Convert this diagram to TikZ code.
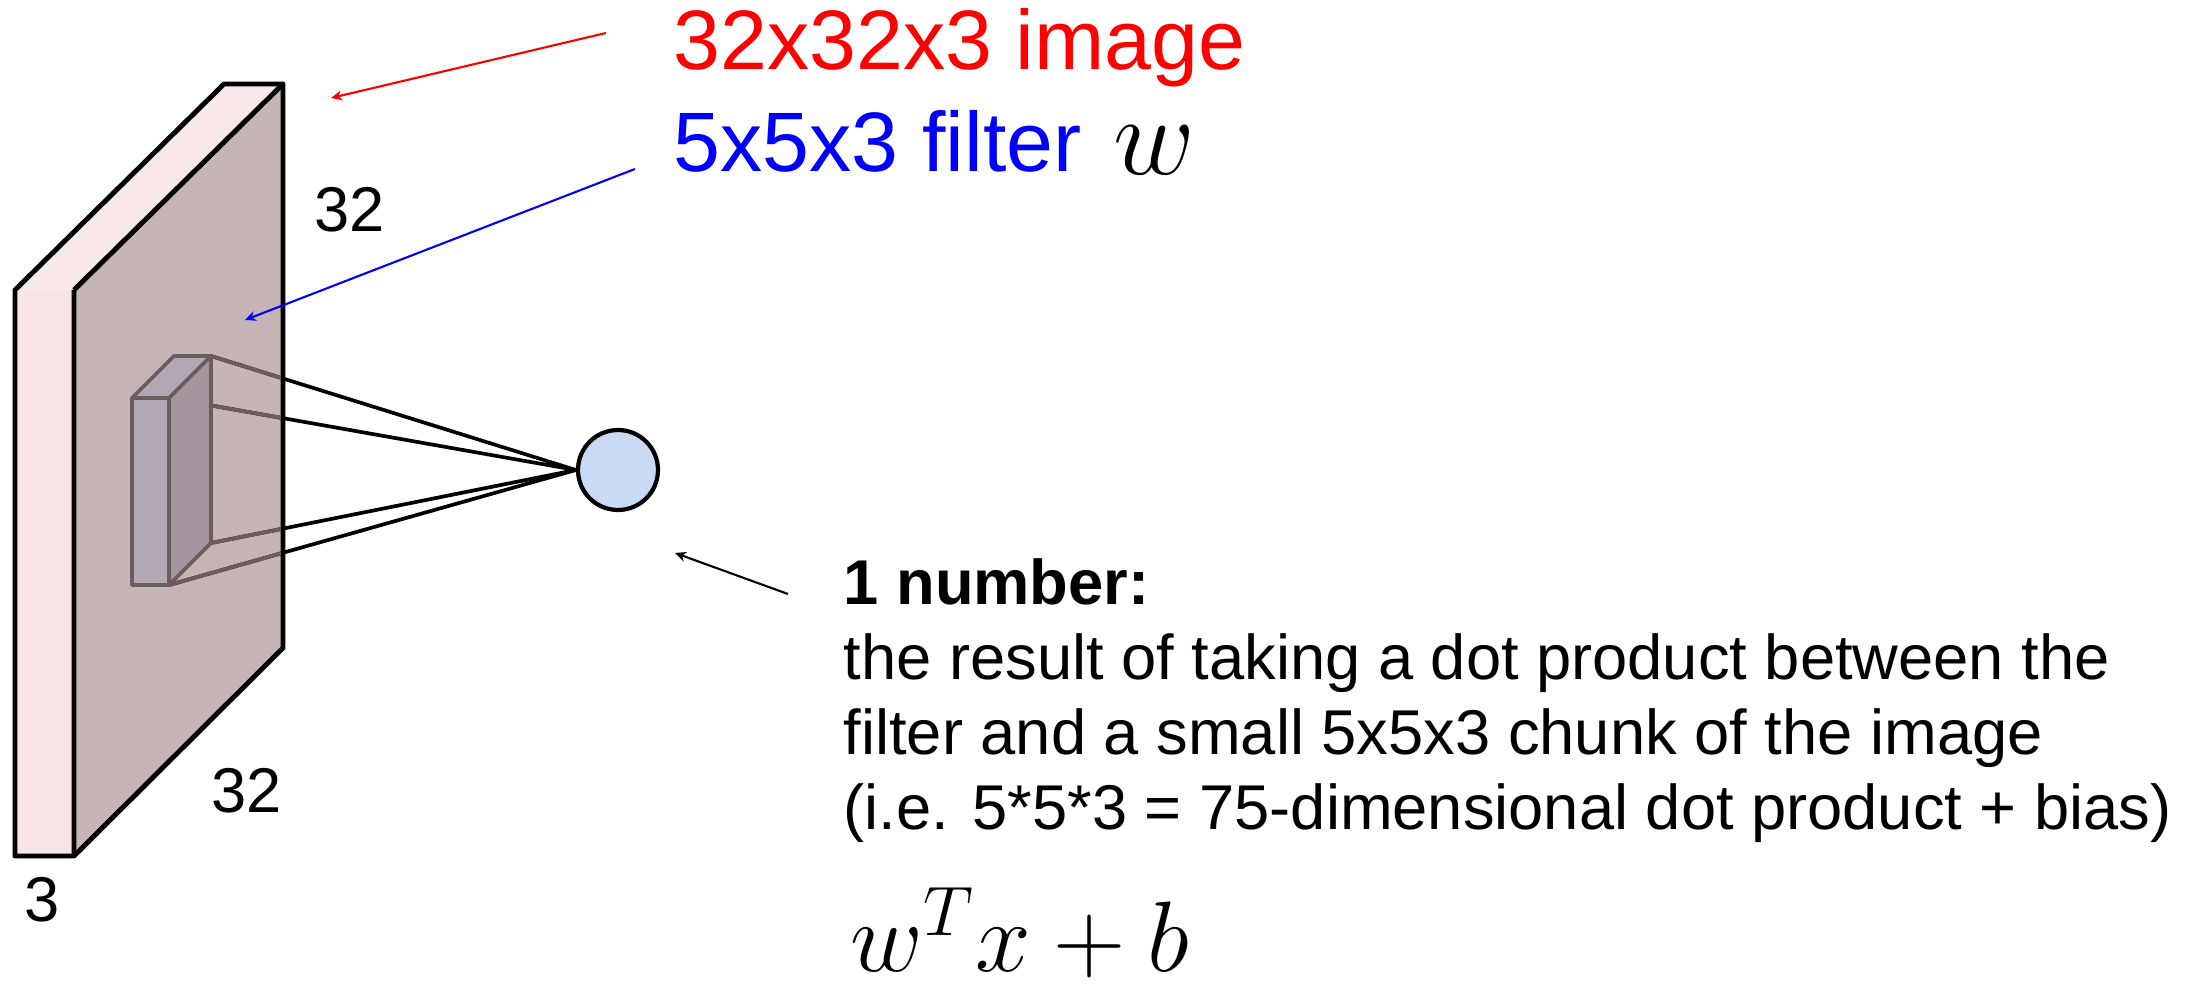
\RequirePackage{fix-cm}
\documentclass[tikz,border=0pt]{standalone}
\usepackage{fontspec}
\usepackage{tikz}
\usetikzlibrary{arrows.meta,positioning,calc}
\newfontfamily\arial{Liberation Sans}
\definecolor{slabpink}{HTML}{F8E4E4}
\definecolor{slabtop}{HTML}{F8E8E8}
\definecolor{slabside}{HTML}{C6B5B5}
\definecolor{filtfront}{HTML}{B3A9B5}
\definecolor{filtside}{HTML}{A3959E}
\definecolor{filtedge}{HTML}{6B5D5D}
\definecolor{dotfill}{HTML}{C9DAF5}
\definecolor{redx}{HTML}{FF0000}
\definecolor{bluex}{HTML}{0000FF}
\tikzset{
  slab/.style={draw=black,line width=1.4pt,line join=round},
  chunk/.style={draw=filtedge,line width=1.05pt,line join=round},
  wire/.style={line width=1.05pt},
  ptr/.style={-{Stealth[length=1.1mm,width=1mm]},line width=0.6pt},
  dim/.style={font=\arial\fontsize{18}{22}\selectfont,inner sep=0pt},
  big/.style={font=\arial\fontsize{24}{29}\selectfont,inner sep=0pt,anchor=base west}
}

\begin{document}
\begin{tikzpicture}[x=1cm,y=1cm]
\useasboundingbox (0,0) rectangle (21.99,9.87);
% input volume 32x32x3
\coordinate (FTL) at (0.15,6.97);
\coordinate (FTR) at (0.74,6.97);
\coordinate (FBR) at (0.74,1.31);
\coordinate (FBL) at (0.15,1.31);
\coordinate (BTL) at (2.24,9.03);
\coordinate (BTR) at (2.83,9.03);
\coordinate (BBR) at (2.83,3.39);
\fill[slabpink] (FTL) rectangle (FBR);
\fill[slabtop] (FTL) -- (BTL) -- (BTR) -- (FTR) -- cycle;
\fill[slabside] (FTR) -- (BTR) -- (BBR) -- (FBR) -- cycle;
\draw[slab] (FBL) -- (FTL) -- (BTL) -- (BTR) -- (BBR) -- (FBR) -- cycle;
\draw[slab] (FTR) -- (BTR) (FTR) -- (FBR);
% filter 5x5x3
\coordinate (f1) at (1.32,5.89);
\coordinate (f2) at (1.69,5.89);
\coordinate (f3) at (1.69,4.02);
\coordinate (f4) at (1.32,4.02);
\coordinate (f5) at (1.74,6.31);
\coordinate (f6) at (2.11,6.31);
\coordinate (f7) at (2.11,4.44);
% output neuron
\node[circle,draw,line width=1.2pt,fill=dotfill,minimum size=0.8cm,inner sep=0pt] (dot) at (6.18,5.17) {};
\foreach \c in {f6,f2,f7,f3}
  \draw[wire] (\c) -- (dot.west);
\begin{scope}
  \clip (FTR) -- (BTR) -- (BBR) -- (FBR) -- cycle;
  \foreach \c in {f6,f2,f7,f3}
    \draw[wire,filtedge] (\c) -- (dot.west);
\end{scope}
\draw[slab] (BTR) -- (BBR);
\fill[filtfront] (f1) -- (f2) -- (f3) -- (f4) -- cycle;
\fill[filtfront] (f1) -- (f5) -- (f6) -- (f2) -- cycle;
\fill[filtside] (f2) -- (f6) -- (f7) -- (f3) -- cycle;
\draw[chunk] (f4) -- (f1) -- (f5) -- (f6) -- (f7) -- (f3) -- cycle;
\draw[chunk] (f1) -- (f2) -- (f6) (f2) -- (f3);
% sizes
\node[dim] (wd) at (3.50,7.77) {32};
\node[dim] (ht) at (2.47,1.96) {32};
\node[dim] (dp) at (0.42,0.87) {3};
% titles
\node[big,text=redx] (imgtxt) at (6.73,9.17) {32x32x3 image};
\node[big,text=bluex] (filttxt) at (6.73,8.15) {5x5x3 filter};
\node[anchor=base west,inner sep=0pt,font=\fontsize{32}{36}\selectfont] (wsym) at (11.13,8.12) {$w$};
\coordinate (imgtail) at (6.06,9.54);
\coordinate (imghead) at (3.31,8.89);
\coordinate (filttail) at (6.35,8.18);
\coordinate (filthead) at (2.45,6.67);
\coordinate (numtail) at (7.88,3.93);
\coordinate (numhead) at (6.75,4.34);
\draw[ptr,redx] (imgtail) -- (imghead);
\draw[ptr,bluex] (filttail) -- (filthead);
\draw[ptr] (numtail) -- (numhead);
% explanation
\node[anchor=north west,inner sep=0pt,align=left,font=\arial\fontsize{18}{21.3}\selectfont] (note) at (8.43,4.29)
  {\textbf{1 number:}\\
   the result of taking a dot product between the\\
   filter and a small 5x5x3 chunk of the image\\
   (i.e. 5*5*3 = 75-dimensional dot product + bias)};
\node[anchor=base west,inner sep=0pt,font=\fontsize{28.5}{32}\selectfont] (affine) at (8.50,0.15) {$w^T x + b$};
\end{tikzpicture}
\end{document}
